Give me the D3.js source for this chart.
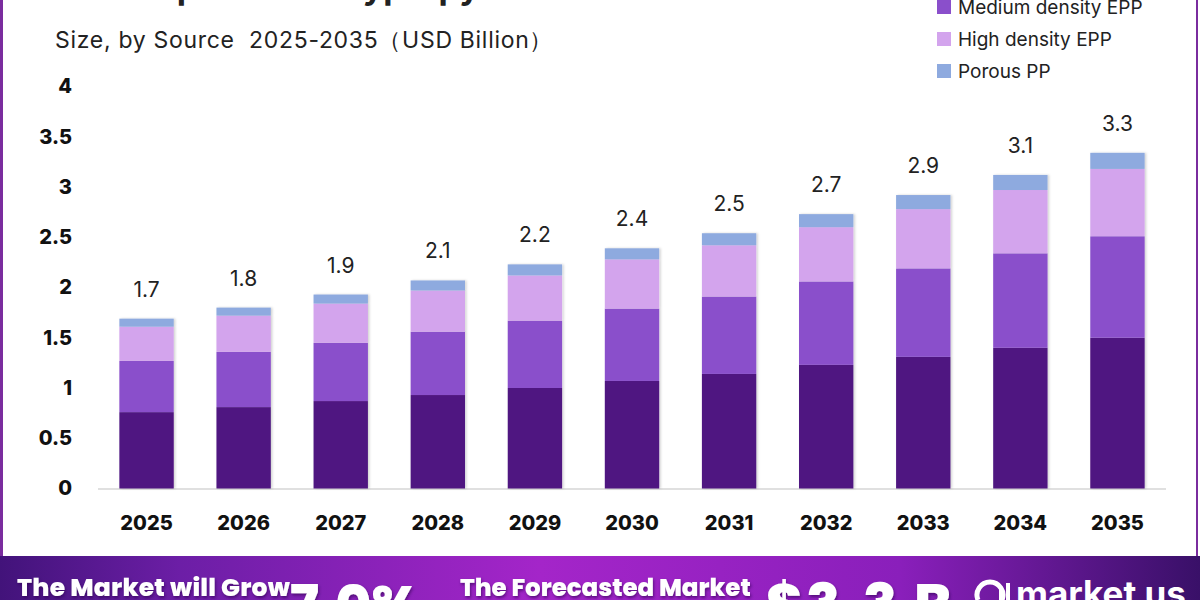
<!DOCTYPE html>
<html>
<head>
<meta charset="utf-8">
<script src="https://cdn.jsdelivr.net/npm/d3@7"></script>
<style>
  body { margin: 0; background: #fff; }
  svg { display: block; font-family: Inter, "Noto Sans", sans-serif; }
</style>
</head>
<body>
<svg id="chart" width="1200" height="600"></svg>
<script>
const years = ["2025", "2026", "2027", "2028", "2029", "2030", "2031", "2032", "2033", "2034", "2035"];
const seriesNames = ["Low density EPP", "Medium density EPP", "High density EPP", "Porous PP"];
const lowDensity = [0.76, 0.81, 0.87, 0.93, 1.0, 1.07, 1.14, 1.23, 1.31, 1.4, 1.5];
const mediumDensity = [0.51, 0.55, 0.58, 0.63, 0.67, 0.72, 0.77, 0.83, 0.88, 0.94, 1.01];
const highDensity = [0.34, 0.36, 0.39, 0.41, 0.45, 0.49, 0.51, 0.54, 0.59, 0.63, 0.67];
const porousPP = [0.08, 0.08, 0.09, 0.1, 0.11, 0.11, 0.12, 0.13, 0.14, 0.15, 0.16];
const totalLabels = ["1.7", "1.8", "1.9", "2.1", "2.2", "2.4", "2.5", "2.7", "2.9", "3.1", "3.3"];
const yTicks = [0, 0.5, 1, 1.5, 2, 2.5, 3, 3.5, 4];
const colors = ["#4f1681", "#8a4fcb", "#d3a4ed", "#8eaadf"];

const svg = d3.select("#chart");

// rows for the stack
const rows = years.map((y, i) => ({
  year: y,
  s0: lowDensity[i], s1: mediumDensity[i], s2: highDensity[i], s3: porousPP[i]
}));
const stack = d3.stack().keys(["s0", "s1", "s2", "s3"])(rows);

const x = d3.scaleBand().domain(years).range([98, 1166]).paddingInner(0.44).paddingOuter(0.22);
const y = d3.scaleLinear().domain([0, 4]).range([488.5, 86.5]);

// frame borders
svg.append("rect").attr("x", 0).attr("y", 0).attr("width", 3).attr("height", 556).attr("fill", "#7a2c9e");
svg.append("rect").attr("x", 1196).attr("y", 0).attr("width", 2).attr("height", 556).attr("fill", "#7a2c9e");

// title (cut off at top)
svg.append("text")
  .attr("x", 22).attr("y", -1)
  .attr("font-size", 34).attr("font-weight", 700).attr("fill", "#222")
  .text("Global Expanded Polypropylene Foam Market");

svg.append("text")
  .attr("x", 55).attr("y", 48)
  .attr("font-size", 23).attr("fill", "#222")
  .attr("letter-spacing", 0.7)
  .style("white-space", "pre")
  .text("Size, by Source  2025-2035（USD Billion）");

// legend
const legend = svg.append("g");
seriesNames.forEach((name, i) => {
  const cy = -25 + i * 32;
  legend.append("rect").attr("x", 937).attr("y", cy - 7).attr("width", 14).attr("height", 14).attr("fill", colors[i]);
  legend.append("text").attr("x", 958).attr("y", cy).attr("dy", "0.36em")
    .attr("font-size", 19).attr("fill", "#222").text(name);
});

// y axis
const yAxis = svg.append("g")
  .attr("transform", "translate(72,0)")
  .call(d3.axisLeft(y).tickValues(yTicks).tickSize(0).tickPadding(0).tickFormat(d3.format("")));
yAxis.select(".domain").remove();
yAxis.selectAll("text")
  .attr("font-family", "Inter, sans-serif")
  .attr("font-size", 20).attr("font-weight", 800).attr("fill", "#111");

// baseline
svg.append("line")
  .attr("x1", 98).attr("x2", 1166).attr("y1", 489).attr("y2", 489)
  .attr("stroke", "#d6d6d6").attr("stroke-width", 1.5);

// x axis
const xAxis = svg.append("g")
  .attr("transform", "translate(0,516)")
  .call(d3.axisBottom(x).tickSize(0).tickPadding(0));
xAxis.select(".domain").remove();
xAxis.selectAll("text")
  .attr("font-family", "Inter, sans-serif")
  .attr("font-size", 20).attr("font-weight", 800).attr("fill", "#111");

// shadow
const defs = svg.append("defs");
const f = defs.append("filter").attr("id", "shadow").attr("x", "-10%").attr("y", "-10%").attr("width", "130%").attr("height", "130%");
f.append("feDropShadow").attr("dx", 1.5).attr("dy", 0).attr("stdDeviation", 1.2).attr("flood-color", "#000").attr("flood-opacity", 0.18);

// bars
const bars = svg.append("g").attr("filter", "url(#shadow)");
stack.forEach((layer, li) => {
  bars.selectAll(null)
    .data(layer)
    .join("rect")
    .attr("x", d => x(d.data.year))
    .attr("y", d => y(d[1]))
    .attr("width", x.bandwidth())
    .attr("height", d => y(d[0]) - y(d[1]))
    .attr("fill", colors[li]);
});

// totals
const topLayer = stack[stack.length - 1];
svg.append("g").selectAll("text")
  .data(topLayer)
  .join("text")
  .attr("x", (d, i) => x(years[i]) + x.bandwidth() / 2)
  .attr("y", d => y(d[1]) - 22)
  .attr("text-anchor", "middle")
  .attr("font-size", 21).attr("fill", "#222")
  .text((d, i) => totalLabels[i]);

// footer band
const grad = defs.append("linearGradient").attr("id", "foot").attr("x1", 0).attr("x2", 1).attr("y1", 0).attr("y2", 0);
[[0, "#42137a"], [0.15, "#6c1ea6"], [0.45, "#a425c9"], [0.75, "#8a1fbb"], [1, "#391068"]].forEach(s => {
  grad.append("stop").attr("offset", s[0]).attr("stop-color", s[1]);
});
svg.append("rect").attr("x", 0).attr("y", 556).attr("width", 1200).attr("height", 44).attr("fill", "url(#foot)");

const ts = defs.append("filter").attr("id", "tshadow");
ts.append("feDropShadow").attr("dx", 1).attr("dy", 2).attr("stdDeviation", 1.5).attr("flood-color", "#2a0050").attr("flood-opacity", 0.6);

const foot = svg.append("g").attr("fill", "#fff").attr("font-family", "Poppins, Inter, sans-serif").attr("filter", "url(#tshadow)");
foot.append("text").attr("x", 17).attr("y", 596).attr("font-size", 25).attr("font-weight", 800).attr("letter-spacing", 0.2).text("The Market will Grow");
foot.append("text").attr("x", 290).attr("y", 624).attr("font-size", 55).attr("font-weight", 800).text("7.0%");
foot.append("text").attr("x", 460).attr("y", 596).attr("font-size", 24.5).attr("font-weight", 800).text("The Forecasted Market");
foot.append("text").attr("x", 766).attr("y", 624).attr("font-size", 56).attr("font-weight", 800).attr("letter-spacing", 3).text("$3.3 B");

// logo
const logo = svg.append("g").attr("fill", "none").attr("stroke", "#fff");
logo.append("path").attr("d", "M978,600 A13,13 0 1 1 1002,600").attr("stroke-width", 5);
logo.append("rect").attr("x", 999).attr("y", 588).attr("width", 4).attr("height", 14).attr("fill", "#fff").attr("stroke", "none");
logo.append("rect").attr("x", 1006).attr("y", 583).attr("width", 4).attr("height", 19).attr("fill", "#fff").attr("stroke", "none");
svg.append("text").attr("x", 1016).attr("y", 606).attr("font-size", 35).attr("font-weight", 700).attr("fill", "#fff").text("market us");
</script>
</body>
</html>
